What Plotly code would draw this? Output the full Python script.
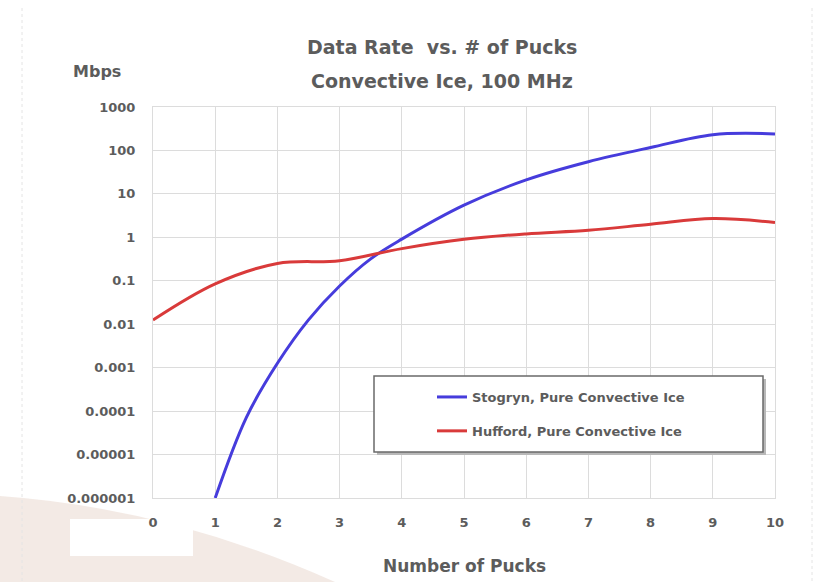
import plotly.graph_objects as go

# Data rate (Mbps) versus number of pucks, convective ice at 100 MHz
stogryn_pucks = [1.0, 1.5, 2.0, 2.5, 3.0, 3.5, 4.0, 5, 6, 7, 8, 9, 10]
stogryn_mbps = [1e-6, 7.1e-5, 1.26e-3, 0.0126, 0.076, 0.32, 0.91, 5.5, 21, 55, 117, 230, 240]

hufford_pucks = [0, 1, 2, 3, 4, 5, 6, 7, 8, 9, 10]
hufford_mbps = [0.0125, 0.085, 0.25, 0.29, 0.55, 0.9, 1.2, 1.45, 2.0, 2.7, 2.2]

y_tick_vals = [1e-6, 1e-5, 1e-4, 1e-3, 1e-2, 0.1, 1, 10, 100, 1000]
y_tick_text = ["0.000001", "0.00001", "0.0001", "0.001", "0.01", "0.1", "1", "10", "100", "1000"]
x_tick_vals = list(range(0, 11))

W, H = 823, 582
L, R, T, B = 153, 775, 107, 498  # plot area in pixels


def px(x):
    return (x - L) / (R - L)


def py(y):
    return (B - y) / (B - T)


TEXT = "#5c5c5c"
FONT = "DejaVu Sans"

fig = go.Figure()
fig.add_trace(go.Scatter(
    x=stogryn_pucks, y=stogryn_mbps, mode="lines",
    line=dict(color="#463cdc", width=3, shape="spline", smoothing=1.0),
    name="Stogryn, Pure Convective Ice", legendgroup="a",
))
fig.add_trace(go.Scatter(
    x=hufford_pucks, y=hufford_mbps, mode="lines",
    line=dict(color="#d93a3a", width=3, shape="spline", smoothing=1.0),
    name="Hufford, Pure Convective Ice", legendgroup="b",
))

shapes = []
# soft beige swoosh in the lower-left background
shapes.append(dict(
    type="path", xref="paper", yref="paper", layer="below",
    path=(f"M {px(0)},{py(496)} Q {px(170)},{py(508)} {px(335)},{py(582)} "
          f"L {px(0)},{py(582)} Z"),
    fillcolor="rgba(240,229,222,0.8)", line=dict(width=0),
))
shapes.append(dict(
    type="rect", xref="paper", yref="paper", layer="below",
    x0=px(70), x1=px(193), y0=py(556), y1=py(519),
    fillcolor="white", line=dict(width=0),
))
# faint dotted slide borders
for xx in (22, 812):
    shapes.append(dict(
        type="line", xref="paper", yref="paper", layer="below",
        x0=px(xx), x1=px(xx), y0=py(8), y1=py(582),
        line=dict(color="#e4e4e4", width=1, dash="dot"),
    ))
# legend frame with a light drop shadow
shapes.append(dict(
    type="rect", xref="paper", yref="paper",
    x0=px(377), x1=px(766), y0=py(455), y1=py(379),
    fillcolor="#b8b8b8", line=dict(width=0),
))
shapes.append(dict(
    type="rect", xref="paper", yref="paper",
    x0=px(374), x1=px(763), y0=py(452), y1=py(376),
    fillcolor="white", line=dict(color="#6a6a6a", width=1.5),
))

annotations = [
    dict(text="Data Rate  vs. # of Pucks",
         xref="paper", yref="paper", x=px(442), y=py(47),
         xanchor="center", yanchor="middle", showarrow=False,
         font=dict(family=FONT, size=19, color=TEXT, weight=700)),
    dict(text="Convective Ice, 100 MHz",
         xref="paper", yref="paper", x=px(442), y=py(81),
         xanchor="center", yanchor="middle", showarrow=False,
         font=dict(family=FONT, size=19, color=TEXT, weight=700)),
    dict(text="Mbps", xref="paper", yref="paper", x=px(97), y=py(72),
         xanchor="center", yanchor="middle", showarrow=False,
         font=dict(family=FONT, size=16, color=TEXT, weight=700)),
    dict(text="Number of Pucks", xref="paper", yref="paper", x=px(464), y=py(566),
         xanchor="center", yanchor="middle", showarrow=False,
         font=dict(family=FONT, size=17, color=TEXT, weight=700)),
]

fig.update_layout(
    width=W, height=H,
    margin=dict(l=L, r=W - R, t=T, b=H - B),
    paper_bgcolor="white", plot_bgcolor="white",
    showlegend=True,
    legend=dict(
        x=px(432), y=py(414), xanchor="left", yanchor="middle",
        bgcolor="rgba(0,0,0,0)", borderwidth=0,
        traceorder="grouped", tracegroupgap=14,
        font=dict(family=FONT, size=13, color=TEXT, weight=700),
        itemwidth=30,
    ),
    shapes=shapes,
    annotations=annotations,
)

fig.update_xaxes(
    range=[0, 10], tickvals=x_tick_vals,
    showgrid=True, gridcolor="#dcdcdc", gridwidth=1,
    showline=True, linecolor="#dcdcdc", mirror=True,
    zeroline=False, ticks="", ticklabelstandoff=12,
    tickfont=dict(family=FONT, size=13, color=TEXT, weight=700),
)
fig.update_yaxes(
    type="log", range=[-6, 3], tickvals=y_tick_vals, ticktext=y_tick_text,
    showgrid=True, gridcolor="#dcdcdc", gridwidth=1,
    showline=True, linecolor="#dcdcdc", mirror=True,
    zeroline=False, ticks="", ticklabelstandoff=14,
    tickfont=dict(family=FONT, size=13, color=TEXT, weight=700),
)

fig.write_html("out.html")
